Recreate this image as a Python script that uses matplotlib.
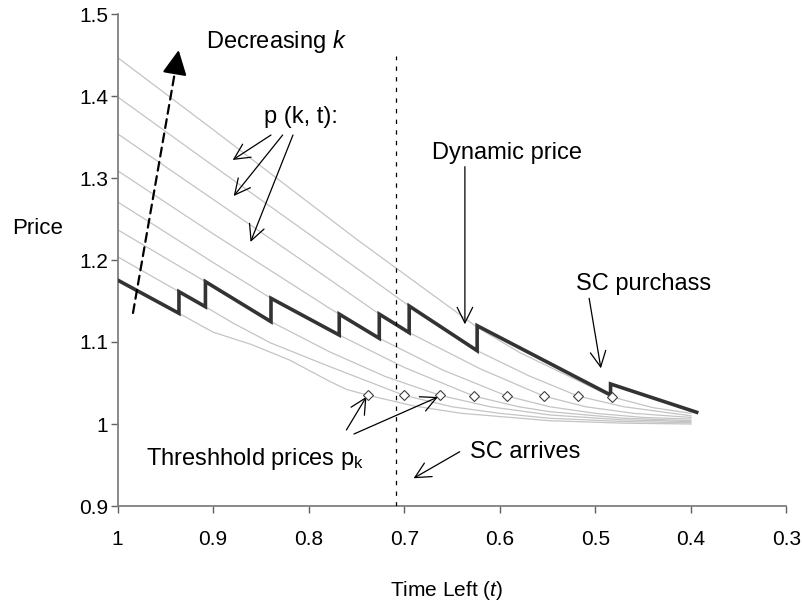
import matplotlib
matplotlib.use('Agg')
import matplotlib.pyplot as plt

# Fonts: Arial-like text, italic letters through mathtext
plt.rcParams['font.family'] = ['Liberation Sans', 'DejaVu Sans']
plt.rcParams['mathtext.fontset'] = 'custom'
plt.rcParams['mathtext.rm'] = 'Liberation Sans'
plt.rcParams['mathtext.it'] = 'Liberation Sans:italic'

# =============================================================================
# Data
# =============================================================================

# p(k, t) curves, from the lowest (k8) to the highest (k1)
t_k8 = [1.0, 0.9357, 0.90, 0.86, 0.82, 0.778, 0.76, 0.7376, 0.69, 0.64, 0.5476, 0.47, 0.40]
p_k8 = [1.1756, 1.135, 1.112, 1.097, 1.078, 1.052, 1.042, 1.035, 1.022, 1.013, 1.004, 1.001, 1.000]
t_k7 = [1.0, 0.9357, 0.908, 0.879, 0.84, 0.778, 0.7003, 0.65, 0.60, 0.5476, 0.47, 0.40]
p_k7 = [1.204, 1.1614, 1.143, 1.123, 1.099, 1.070, 1.035, 1.021, 1.013, 1.007, 1.003, 1.0015]
t_k6 = [1.0, 0.908, 0.8394, 0.778, 0.72, 0.6627, 0.61, 0.5476, 0.47, 0.40]
p_k6 = [1.237, 1.1736, 1.1248, 1.088, 1.058, 1.035, 1.021, 1.011, 1.005, 1.003]
t_k5 = [1.0, 0.9, 0.8394, 0.768, 0.70, 0.627, 0.58, 0.5476, 0.47, 0.40]
p_k5 = [1.271, 1.197, 1.1533, 1.1085, 1.069, 1.034, 1.021, 1.015, 1.007, 1.004]
t_k4 = [1.0, 0.9, 0.778, 0.768, 0.7261, 0.66, 0.5923, 0.5476, 0.50, 0.45, 0.40]
p_k4 = [1.309, 1.232, 1.141, 1.134, 1.1045, 1.066, 1.034, 1.021, 1.013, 1.008, 1.006]
t_k3 = [1.0, 0.9, 0.8, 0.7261, 0.6948, 0.62, 0.5539, 0.51, 0.46, 0.40]
p_k3 = [1.354, 1.274, 1.194, 1.134, 1.1114, 1.067, 1.034, 1.021, 1.013, 1.008]
t_k2 = [1.0, 0.9, 0.8, 0.6948, 0.6237, 0.57, 0.518, 0.47, 0.40]
p_k2 = [1.399, 1.315, 1.232, 1.1439, 1.0894, 1.059, 1.034, 1.021, 1.010]
t_k1 = [1.0, 0.9, 0.8, 0.7495, 0.6237, 0.579, 0.4827, 0.44, 0.40]
p_k1 = [1.447, 1.359, 1.270, 1.225, 1.118, 1.087, 1.033, 1.020, 1.013]

# Dynamic price (step path over the curves)
t_dyn = [1.0, 0.9357, 0.9357, 0.908, 0.908, 0.8394, 0.8394, 0.768, 0.768,
         0.7261, 0.7261, 0.6948, 0.6948, 0.6237, 0.6237, 0.4841, 0.4841, 0.394]
p_dyn = [1.1756, 1.135, 1.1614, 1.143, 1.1736, 1.1248, 1.1533, 1.1085, 1.134,
         1.1045, 1.134, 1.1114, 1.1439, 1.0894, 1.1199, 1.0354, 1.0488, 1.0143]

# Threshold prices p_k
t_thr = [0.7376, 0.7003, 0.6627, 0.627, 0.5923, 0.5539, 0.518, 0.4827]
p_thr = [1.035, 1.035, 1.035, 1.034, 1.034, 1.034, 1.034, 1.033]

# SC arrival time
t_arrival = 0.709

# Axes ticks
x_ticks = [1.0, 0.9, 0.8, 0.7, 0.6, 0.5, 0.4, 0.3]
x_tick_labels = ['1', '0.9', '0.8', '0.7', '0.6', '0.5', '0.4', '0.3']
y_ticks = [0.9, 1.0, 1.1, 1.2, 1.3, 1.4, 1.5]
y_tick_labels = ['0.9', '1', '1.1', '1.2', '1.3', '1.4', '1.5']

curves = [(t_k8, p_k8), (t_k7, p_k7), (t_k6, p_k6), (t_k5, p_k5),
          (t_k4, p_k4), (t_k3, p_k3), (t_k2, p_k2), (t_k1, p_k1)]

# =============================================================================
# Figure
# =============================================================================
fig = plt.figure(figsize=(8.02, 6.02), dpi=100)
ax = fig.add_axes([117.5 / 802, 1 - 506 / 602, 669 / 802, 492 / 602])

for t, p in curves:
    ax.plot(t, p, color='#c4c4c4', linewidth=0.9, zorder=2)

ax.plot(t_dyn, p_dyn, color='#333333', linewidth=2.6, solid_joinstyle='miter', zorder=3)

ax.plot(t_thr, p_thr, linestyle='none', marker='D', markersize=5.5,
        markerfacecolor='white', markeredgecolor='#404040', markeredgewidth=0.8, zorder=4)

# vertical dotted line: SC arrives
ax.plot([t_arrival, t_arrival], [0.9, 1.449], color='black', linewidth=0.9,
        linestyle=(0, (3.5, 5)), zorder=3)

ax.set_xlim(1.0, 0.3)
ax.set_ylim(0.9, 1.5)
ax.set_xticks(x_ticks)
ax.set_xticklabels(x_tick_labels)
ax.set_yticks(y_ticks)
ax.set_yticklabels(y_tick_labels)

for side in ['top', 'right']:
    ax.spines[side].set_visible(False)
for side in ['left', 'bottom']:
    ax.spines[side].set_color('#808080')
    ax.spines[side].set_linewidth(1.3)

ax.tick_params(axis='both', direction='out', length=5, width=1, color='#606060', labelsize=15)
ax.tick_params(axis='x', pad=12)
ax.tick_params(axis='y', pad=1.5)

fig.text(12 / 802, 1 - 228 / 602, 'Price', fontsize=16, ha='left', va='center')
fig.text(447 / 802, 1 - 596 / 602, 'Time Left ($\\mathit{t}$)', fontsize=15,
         ha='center', va='baseline')

# =============================================================================
# Annotations
# =============================================================================
arrow = dict(arrowstyle='->,head_length=0.8,head_width=0.4', color='black',
             linewidth=0.9, mutation_scale=14, shrinkA=0, shrinkB=0)
text_size = 17

# Decreasing k: dashed shaft, then a solid filled head
ax.annotate('', xy=(0.9395, 1.432), xytext=(0.9838, 1.1354),
            arrowprops=dict(arrowstyle='-', color='black', linewidth=1.6,
                            linestyle=(0, (4, 2.5)), shrinkA=0, shrinkB=0), zorder=5)
ax.annotate('', xy=(0.936, 1.456), xytext=(0.9395, 1.432),
            arrowprops=dict(arrowstyle='-|>,head_length=1.0,head_width=0.5',
                            color='black', linewidth=1.6, mutation_scale=15,
                            shrinkA=0, shrinkB=0), zorder=5)
ax.text(0.9074, 1.4585, 'Decreasing $\\mathit{k}$', fontsize=text_size, va='baseline')

# p(k, t)
ax.text(0.847, 1.3667, 'p (k, t):', fontsize=text_size, va='baseline')
ax.annotate('', xy=(0.8795, 1.3220), xytext=(0.8394, 1.3524), arrowprops=arrow)
ax.annotate('', xy=(0.8784, 1.2780), xytext=(0.8272, 1.3524), arrowprops=arrow)
ax.annotate('', xy=(0.8608, 1.2220), xytext=(0.8164, 1.3524), arrowprops=arrow)

# Dynamic price
ax.text(0.6713, 1.3228, 'Dynamic price', fontsize=text_size, va='baseline')
ax.annotate('', xy=(0.6365, 1.1216), xytext=(0.6365, 1.3138), arrowprops=arrow)

# SC purchass
ax.text(0.5204, 1.1634, 'SC purchass', fontsize=text_size, va='baseline')
ax.annotate('', xy=(0.4942, 1.0679), xytext=(0.5065, 1.1533), arrowprops=arrow)

# SC arrives
ax.text(0.6313, 0.9582, 'SC arrives', fontsize=text_size, va='baseline')
ax.annotate('', xy=(0.6902, 0.9338), xytext=(0.6419, 0.9662), arrowprops=arrow)

# Threshold prices
ax.text(0.9702, 0.9500, 'Threshhold prices p$_\\mathrm{k}$', fontsize=text_size, va='baseline')
ax.annotate('', xy=(0.7395, 1.0333), xytext=(0.7605, 0.9927), arrowprops=arrow)
ax.annotate('', xy=(0.6647, 1.0329), xytext=(0.7526, 0.9878), arrowprops=arrow)

fig.savefig('out.png', dpi=100)
